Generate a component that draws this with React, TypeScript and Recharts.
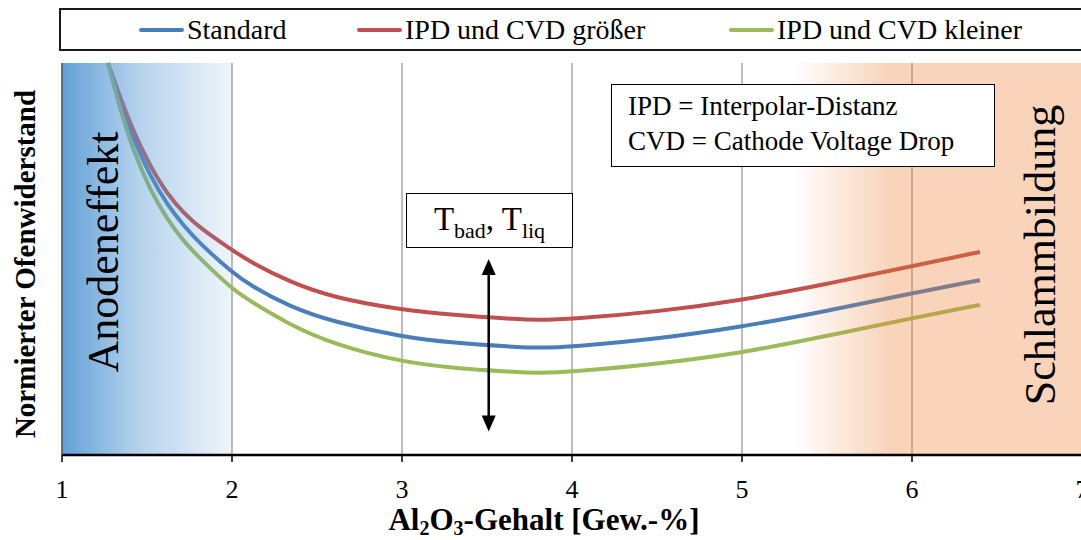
import React from "react";
import { CartesianGrid, Legend, Line, LineChart, ReferenceArea, ReferenceLine, XAxis, YAxis } from "recharts";

// Al2O3 content [wt-%] and normalised furnace resistance
const alGehalt = [1.27, 1.34, 1.42, 1.52, 1.62, 1.72, 1.81, 2.0, 2.11, 2.34, 2.6, 3.0, 3.3, 3.65, 3.8, 4.0, 4.5, 5.0, 5.5, 6.0, 6.4];
const standard = [100, 90.5, 80.5, 71.0, 63.8, 58.3, 54.0, 46.6, 43.2, 37.8, 33.9, 30.1, 28.6, 27.6, 27.3, 27.6, 29.6, 32.7, 36.7, 41.3, 44.6];
const groesser = [100, 91.5, 82.5, 73.5, 66.5, 61.5, 58.0, 52.3, 49.2, 44.1, 40.1, 37.0, 35.7, 34.7, 34.4, 34.7, 36.5, 39.5, 43.6, 48.2, 51.8];
const kleiner = [100, 88.5, 77.5, 67.5, 60.0, 54.3, 50.2, 42.3, 39.2, 33.2, 28.2, 23.7, 22.2, 21.2, 20.9, 21.2, 23.2, 26.0, 30.4, 34.9, 38.3];

const xTicks = [1, 2, 3, 4, 5, 6, 7];
const seriesNames = ["Standard", "IPD und CVD größer", "IPD und CVD kleiner"];

// regions and the temperature arrow
const anodeRange = [1, 2];
const schlammRange = [5.3, 7];
const arrowX = 3.51;
const arrowY = [50, 6];

const FONT = "'Liberation Serif', 'Times New Roman', serif";

const data = alGehalt.map((x, i) => ({ x, standard: standard[i], groesser: groesser[i], kleiner: kleiner[i] }));

const legendLeft = [78, 296, 668];

function renderLegend(props: any) {
  const items = [...(props.payload || [])].sort(
    (a: any, b: any) => seriesNames.indexOf(a.value) - seriesNames.indexOf(b.value)
  );
  return (
    <div
      style={{
        position: "relative",
        width: 1040,
        height: 43,
        boxSizing: "border-box",
        border: "2px solid #1a1a1a",
        borderRight: "none",
        background: "#fff",
        fontFamily: FONT,
      }}
    >
      {items.map((p: any, i: number) => (
        <div key={p.value} style={{ position: "absolute", left: legendLeft[i], top: 0, height: 39, display: "flex", alignItems: "center" }}>
          <span style={{ display: "inline-block", width: 45, height: 4, borderRadius: 2, background: p.color, marginRight: 3 }} />
          <span style={{ fontSize: 28, color: "#000", lineHeight: "39px", whiteSpace: "nowrap" }}>{p.value}</span>
        </div>
      ))}
    </div>
  );
}

function Arrow(props: any) {
  const { x1, y1, x2, y2 } = props;
  const top = Math.min(y1, y2);
  const bot = Math.max(y1, y2);
  const x = x1;
  return (
    <g>
      <line x1={x} y1={top + 12} x2={x2} y2={bot - 12} stroke="#000" strokeWidth={2.5} />
      <polygon points={`${x},${top} ${x - 7},${top + 16} ${x + 7},${top + 16}`} fill="#000" />
      <polygon points={`${x},${bot} ${x - 7},${bot - 16} ${x + 7},${bot - 16}`} fill="#000" />
    </g>
  );
}

function AxisTitles() {
  return (
    <g>
      <text x={544} y={530} textAnchor="middle" fontFamily={FONT} fontWeight="bold" fontSize={31} fill="#000">
        Al<tspan fontSize={20} dy={5}>2</tspan>
        <tspan dy={-5}>O</tspan>
        <tspan fontSize={20} dy={5}>3</tspan>
        <tspan dy={-5}>-Gehalt [Gew.-%]</tspan>
      </text>
      <text x={35} y={264} transform="rotate(-90, 35, 264)" textAnchor="middle" fontFamily={FONT} fontWeight="bold" fontSize={29} fill="#000">
        Normierter Ofenwiderstand
      </text>
    </g>
  );
}

export default function App() {
  return (
    <div style={{ position: "absolute", left: 0, top: 0, width: 1081, height: 540, overflow: "hidden", background: "#fff", fontFamily: FONT }}>
      <LineChart width={1100} height={540} data={data} margin={{ top: 63, right: 18, bottom: 55, left: 61 }}>
        <defs>
          <linearGradient id="anodeFill" x1="0" y1="0" x2="1" y2="0">
            <stop offset="0" stopColor="#5b9bd5" stopOpacity={0.95} />
            <stop offset="0.45" stopColor="#5b9bd5" stopOpacity={0.45} />
            <stop offset="1" stopColor="#5b9bd5" stopOpacity={0.1} />
          </linearGradient>
          <linearGradient id="schlammFill" x1="0" y1="0" x2="1" y2="0">
            <stop offset="0" stopColor="#ed7d31" stopOpacity={0} />
            <stop offset="0.33" stopColor="#ed7d31" stopOpacity={0.33} />
            <stop offset="1" stopColor="#ed7d31" stopOpacity={0.33} />
          </linearGradient>
        </defs>
        <CartesianGrid horizontal={false} stroke="#a6a6a6" strokeWidth={1.5} />
        <XAxis
          type="number"
          dataKey="x"
          domain={[1, 7]}
          ticks={xTicks}
          allowDataOverflow
          height={30}
          tickSize={7}
          tickMargin={18}
          tickLine={{ stroke: "#000", strokeWidth: 1.5 }}
          axisLine={{ stroke: "#000", strokeWidth: 2.5 }}
          tick={{ fontSize: 26, fill: "#000", fontFamily: FONT }}
          label={{ content: () => <AxisTitles /> }}
        />
        <XAxis xAxisId="top" orientation="top" type="number" domain={[1, 7]} height={0} tick={false} tickLine={false} axisLine={{ stroke: "#333", strokeWidth: 2 }} />
        <YAxis domain={[0, 100]} width={1} tick={false} tickLine={false} axisLine={{ stroke: "#595959", strokeWidth: 1.5 }} />
        <Legend
          layout="horizontal"
          verticalAlign="middle"
          align="center"
          wrapperStyle={{ top: 8, left: 59, width: 1040 }}
          content={renderLegend}
        />
        <Line name={seriesNames[0]} dataKey="standard" type="basis" stroke="#4a7ebb" strokeWidth={4} dot={false} isAnimationActive={false} />
        <Line name={seriesNames[1]} dataKey="groesser" type="basis" stroke="#c0504d" strokeWidth={4} dot={false} isAnimationActive={false} />
        <Line name={seriesNames[2]} dataKey="kleiner" type="basis" stroke="#9bbb59" strokeWidth={4} dot={false} isAnimationActive={false} />
        <ReferenceArea
          x1={anodeRange[0]}
          x2={anodeRange[1]}
          fill="url(#anodeFill)"
          fillOpacity={1}
          stroke="none"
          zIndex={450}
          label={{
            content: () => (
              <text x={118} y={252} transform="rotate(-90, 118, 252)" textAnchor="middle" fontFamily={FONT} fontSize={44} fill="#000">
                Anodeneffekt
              </text>
            ),
          }}
        />
        <ReferenceArea
          x1={schlammRange[0]}
          x2={schlammRange[1]}
          fill="url(#schlammFill)"
          fillOpacity={1}
          stroke="none"
          zIndex={450}
          label={{
            content: () => (
              <text x={1055} y={255} transform="rotate(-90, 1055, 255)" textAnchor="middle" fontFamily={FONT} fontSize={44} fill="#000">
                Schlammbildung
              </text>
            ),
          }}
        />
        <ReferenceLine
          segment={[
            { x: arrowX, y: arrowY[0] },
            { x: arrowX, y: arrowY[1] },
          ]}
          zIndex={460}
          shape={Arrow}
        />
      </LineChart>

      <div
        style={{
          position: "absolute",
          left: 611,
          top: 84,
          width: 384,
          height: 83,
          boxSizing: "border-box",
          border: "1.5px solid #000",
          background: "#fff",
          padding: "4px 0 0 16px",
          fontSize: 27,
          lineHeight: "35px",
          color: "#000",
        }}
      >
        <div>IPD = Interpolar-Distanz</div>
        <div>CVD = Cathode Voltage Drop</div>
      </div>

      <div
        style={{
          position: "absolute",
          left: 406,
          top: 193,
          width: 167,
          height: 55,
          boxSizing: "border-box",
          border: "1.5px solid #000",
          background: "#fff",
          textAlign: "center",
          fontSize: 33,
          lineHeight: "50px",
          color: "#000",
        }}
      >
        T<sub style={{ fontSize: 22 }}>bad</sub>, T<sub style={{ fontSize: 22 }}>liq</sub>
      </div>
    </div>
  );
}
